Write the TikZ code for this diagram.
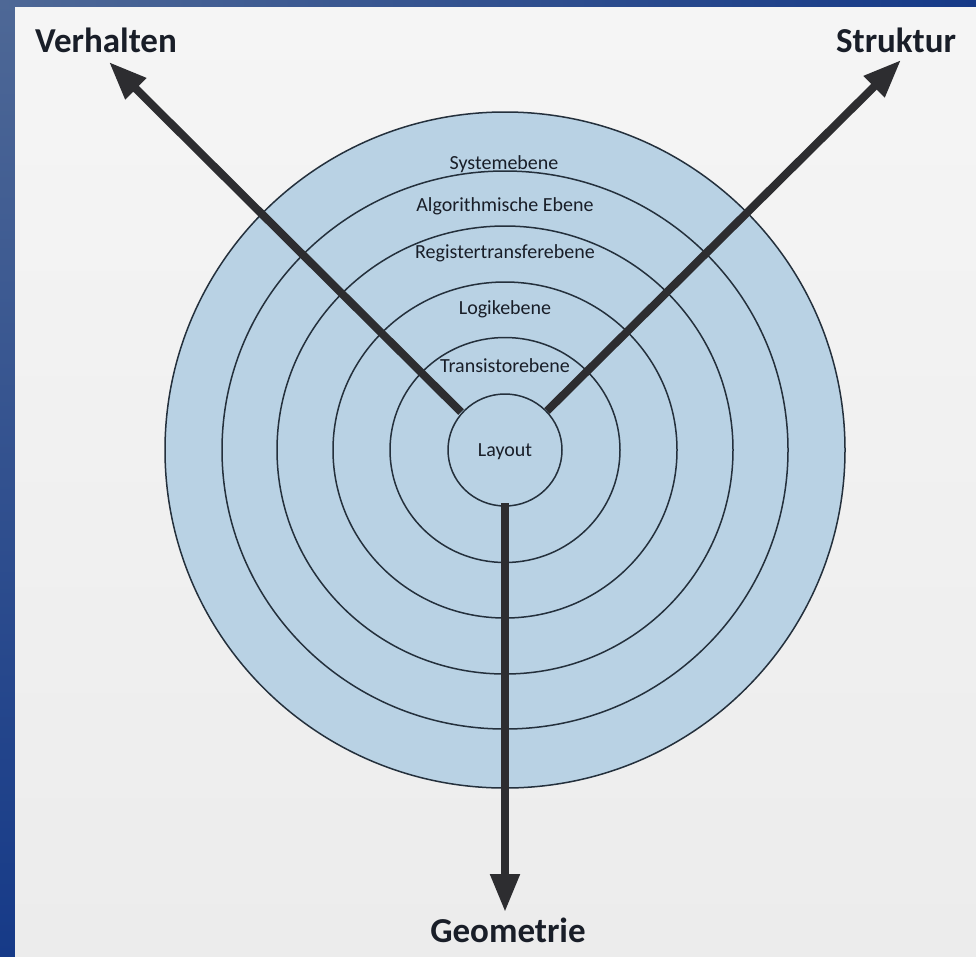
\documentclass[tikz,border=0pt]{standalone}
\usepackage{fontspec}
\setmainfont{Carlito}
\usetikzlibrary{arrows.meta}
\definecolor{bordertop}{RGB}{78,104,150}
\definecolor{borderbot}{RGB}{22,58,136}
\definecolor{bgtop}{RGB}{245,245,245}
\definecolor{bgbot}{RGB}{236,236,236}
\definecolor{ringfill}{RGB}{185,210,228}
\definecolor{ringline}{RGB}{36,48,60}
\definecolor{arrowcol}{RGB}{45,45,48}
\definecolor{textcol}{RGB}{25,30,40}
\tikzset{
  ring/.style={draw=ringline, line width=1.5pt, fill=ringfill},
  levellabel/.style={anchor=base, font=\fontsize{20}{24}\selectfont, text=textcol, inner sep=0pt},
  axislabel/.style={anchor=base, font=\fontsize{35}{40}\selectfont\bfseries, text=textcol, inner sep=0pt},
  axisarrow/.style={draw=arrowcol, line width=8pt, -{Triangle[length=38pt,width=28pt]}},
}
\begin{document}
\begin{tikzpicture}[x=1pt,y=-1pt]
\useasboundingbox (0,0) rectangle (976,956);
% background and frame
\shade[top color=bordertop, bottom color=borderbot] (0,0) rectangle (976,956);
\shade[left color=bordertop, right color=borderbot] (0,0) rectangle (976,7);
\shade[top color=bgtop, bottom color=bgbot] (15,7) rectangle (976,956);
% rings
\coordinate (c) at (505,450);
\draw[ring] (c) ellipse [x radius=340, y radius=338];
\draw[ring] (c) ellipse [x radius=283, y radius=279];
\draw[ring] (c) ellipse [x radius=228, y radius=224];
\draw[ring] (c) ellipse [x radius=172, y radius=168];
\draw[ring] (c) ellipse [x radius=115, y radius=112.5];
\draw[ring] (c) ellipse [x radius=57, y radius=56];
% level labels
\node[levellabel] (sys) at (504,169) {Systemebene};
\node[levellabel] (alg) at (505,211) {Algorithmische Ebene};
\node[levellabel] (rtl) at (505,258) {Registertransferebene};
\node[levellabel] (log) at (505,314) {Logikebene};
\node[levellabel] (tra) at (505,372) {Transistorebene};
\node[levellabel] (lay) at (505,456) {Layout};
% axis labels
\node[axislabel] (verh) at (106,52) {Verhalten};
\node[axislabel] (strk) at (896,52) {Struktur};
\node[axislabel] (geom) at (508,942) {Geometrie};
% arrow end points
\coordinate (vstart) at (461,412);
\coordinate (vtip) at (109,62);
\coordinate (sstart) at (547,411);
\coordinate (stip) at (901,60);
\coordinate (gstart) at (505,503);
\coordinate (gtip) at (505,912);
\draw[axisarrow] (vstart) -- (vtip);
\draw[axisarrow] (sstart) -- (stip);
\draw[axisarrow] (gstart) -- (gtip);
\end{tikzpicture}
\end{document}
